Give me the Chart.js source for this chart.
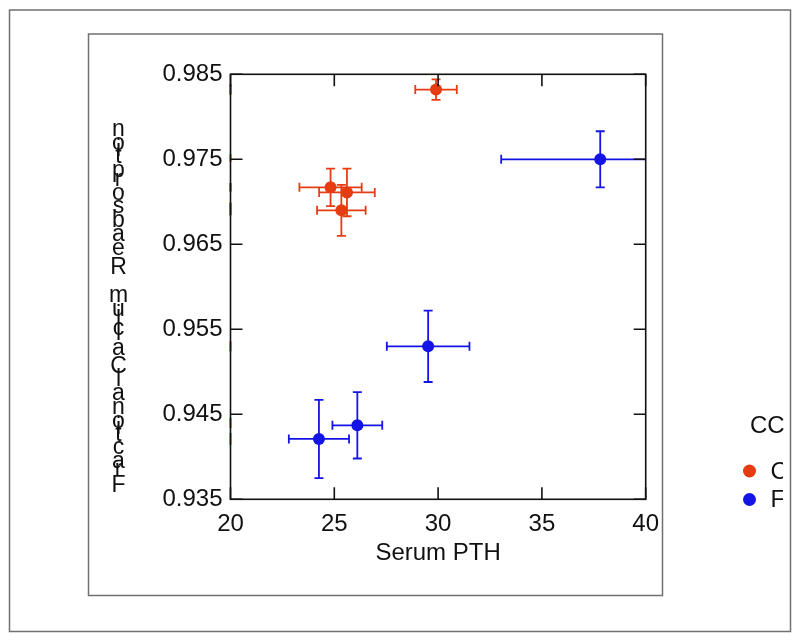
<!DOCTYPE html>
<html>
<head>
<meta charset="utf-8">
<script src="https://cdn.jsdelivr.net/npm/chart.js@4"></script>
<style>
  html, body { margin: 0; padding: 0; background: #fff; }
  #wrap { width: 800px; height: 640px; position: relative; }
</style>
</head>
<body>
<div id="wrap"><canvas id="chart" width="800" height="640"></canvas></div>
<script>
// Data
const groups = ['C', 'F'];
const groupColors = ['#e63c12', '#1414e6'];

const pthC = [29.9, 24.82, 25.61, 25.34];
const fracC = [0.9832, 0.9717, 0.9711, 0.9690];
const pthErrC = [1.0, 1.5, 1.34, 1.17];
const fracErrC = [0.0012, 0.0022, 0.0028, 0.0030];

const pthF = [37.81, 29.52, 26.11, 24.26];
const fracF = [0.9750, 0.9530, 0.9437, 0.9421];
const pthErrF = [4.77, 1.99, 1.2, 1.45];
const fracErrF = [0.0033, 0.0042, 0.0039, 0.0046];

// short coloured marks sitting on the left axis (x = 20)
const edgeC = [[0.9747, 0.9756], [0.9524, 0.9536], [0.9434, 0.9446], [0.9414, 0.9428]];
const edgeF = [[0.9826, 0.9838], [0.9712, 0.9722], [0.9684, 0.9699]];

const xTicks = [20, 25, 30, 35, 40];
const yTicks = [0.935, 0.945, 0.955, 0.965, 0.975, 0.985];

const xTitle = 'Serum PTH';
const yTitle = 'Fractional Calcium Reabsorption';
const legendTitle = 'CC';

const FONT = "'Liberation Sans', Arial, Helvetica, sans-serif";

const toPoints = (xs, ys) => xs.map((x, i) => ({ x: x, y: ys[i] }));

const errC = { xs: pthC, ys: fracC, ex: pthErrC, ey: fracErrC, edge: edgeC };
const errF = { xs: pthF, ys: fracF, ex: pthErrF, ey: fracErrF, edge: edgeF };

// Error bars (drawn under the points, clipped to the plot)
const errorBars = {
  id: 'errorBars',
  beforeDatasetsDraw(chart) {
    const { ctx, chartArea: a, scales: { x, y } } = chart;
    ctx.save();
    ctx.beginPath();
    ctx.rect(a.left, a.top, a.right - a.left, a.bottom - a.top);
    ctx.clip();
    [errC, errF].forEach((g, gi) => {
      ctx.strokeStyle = groupColors[gi];
      ctx.lineWidth = 1.8;
      const cap = 4.5;
      g.xs.forEach((xv, i) => {
        const px = x.getPixelForValue(xv);
        const py = y.getPixelForValue(g.ys[i]);
        const x0 = x.getPixelForValue(xv - g.ex[i]);
        const x1 = x.getPixelForValue(xv + g.ex[i]);
        const y0 = y.getPixelForValue(g.ys[i] - g.ey[i]);
        const y1 = y.getPixelForValue(g.ys[i] + g.ey[i]);
        ctx.beginPath();
        ctx.moveTo(x0, py); ctx.lineTo(x1, py);
        ctx.moveTo(x0, py - cap); ctx.lineTo(x0, py + cap);
        ctx.moveTo(x1, py - cap); ctx.lineTo(x1, py + cap);
        ctx.moveTo(px, y0); ctx.lineTo(px, y1);
        ctx.moveTo(px - cap, y0); ctx.lineTo(px + cap, y0);
        ctx.moveTo(px - cap, y1); ctx.lineTo(px + cap, y1);
        ctx.stroke();
      });
    });
    ctx.restore();
  }
};

// Frame, inward ticks, rotated-letter y title, legend, page boxes
const decorations = {
  id: 'decorations',
  afterDraw(chart) {
    const { ctx, chartArea: a, scales: { x, y } } = chart;
    ctx.save();

    // page boxes
    ctx.strokeStyle = '#707070';
    ctx.lineWidth = 1.5;
    ctx.strokeRect(9.5, 10, 781, 621.5);
    ctx.strokeRect(88.5, 34, 574, 561.5);

    // marks on the left axis
    [errC, errF].forEach((g, gi) => {
      ctx.strokeStyle = groupColors[gi];
      ctx.lineWidth = 2;
      g.edge.forEach(r => {
        ctx.beginPath();
        ctx.moveTo(x.getPixelForValue(20), y.getPixelForValue(r[0]));
        ctx.lineTo(x.getPixelForValue(20), y.getPixelForValue(r[1]));
        ctx.stroke();
      });
    });

    // frame
    ctx.strokeStyle = '#111';
    ctx.lineWidth = 1.6;
    ctx.strokeRect(a.left, a.top, a.right - a.left, a.bottom - a.top);

    // inward ticks on all four sides
    const tl = 12;
    ctx.beginPath();
    xTicks.forEach(v => {
      const px = x.getPixelForValue(v);
      ctx.moveTo(px, a.bottom); ctx.lineTo(px, a.bottom - tl);
      ctx.moveTo(px, a.top); ctx.lineTo(px, a.top + tl);
    });
    yTicks.forEach(v => {
      const py = y.getPixelForValue(v);
      ctx.moveTo(a.left, py); ctx.lineTo(a.left + tl, py);
      ctx.moveTo(a.right, py); ctx.lineTo(a.right - tl, py);
    });
    ctx.stroke();

    // y title: upright letters stacked bottom to top
    ctx.fillStyle = '#111';
    ctx.textAlign = 'center';
    ctx.textBaseline = 'alphabetic';
    let base = 492;
    for (const ch of yTitle) {
      ctx.font = '25.5px ' + FONT;
      const adv = ctx.measureText(ch).width;
      ctx.font = '23px ' + FONT;
      if (ch !== ' ') ctx.fillText(ch, 118.5, base);
      base -= adv;
    }

    // legend
    ctx.font = '24px ' + FONT;
    ctx.textAlign = 'left';
    ctx.textBaseline = 'middle';
    ctx.fillText(legendTitle, 750, 426);
    ctx.beginPath();
    ctx.rect(0, 0, 783, 640);
    ctx.clip();
    groups.forEach((name, i) => {
      const cy = 471 + i * 28.5;
      ctx.fillStyle = groupColors[i];
      ctx.beginPath();
      ctx.arc(749.5, cy, 6.5, 0, Math.PI * 2);
      ctx.fill();
      ctx.fillStyle = '#111';
      ctx.fillText(name, 770.5, cy + 1);
    });

    ctx.restore();
  }
};

new Chart(document.getElementById('chart'), {
  type: 'scatter',
  data: {
    datasets: [
      {
        label: groups[0],
        data: toPoints(pthC, fracC),
        backgroundColor: groupColors[0],
        borderWidth: 0,
        pointRadius: 6
      },
      {
        label: groups[1],
        data: toPoints(pthF, fracF),
        backgroundColor: groupColors[1],
        borderWidth: 0,
        pointRadius: 6
      }
    ]
  },
  options: {
    responsive: false,
    animation: false,
    layout: { padding: { left: 0, top: 74.3, right: 154.3, bottom: 0 } },
    plugins: {
      legend: { display: false },
      tooltip: { enabled: false }
    },
    scales: {
      x: {
        type: 'linear',
        min: 20,
        max: 40,
        afterBuildTicks: s => { s.ticks = xTicks.map(v => ({ value: v })); },
        afterFit: s => { s.height = 140.7; },
        grid: { display: false, drawTicks: false, tickLength: 0 },
        border: { display: false },
        ticks: {
          color: '#111',
          font: { family: FONT, size: 24 },
          padding: 11,
          maxRotation: 0,
          callback: v => String(v)
        },
        title: {
          display: true,
          text: xTitle,
          color: '#111',
          font: { family: FONT, size: 24 },
          padding: { top: 0, bottom: 72 }
        }
      },
      y: {
        type: 'linear',
        min: 0.935,
        max: 0.985,
        afterBuildTicks: s => { s.ticks = yTicks.map(v => ({ value: v })); },
        afterFit: s => { s.width = 230.5; },
        grid: { display: false, drawTicks: false, tickLength: 0 },
        border: { display: false },
        ticks: {
          color: '#111',
          font: { family: FONT, size: 24 },
          padding: 8,
          callback: v => Number(v).toFixed(3)
        }
      }
    }
  },
  plugins: [errorBars, decorations]
});
</script>
</body>
</html>
